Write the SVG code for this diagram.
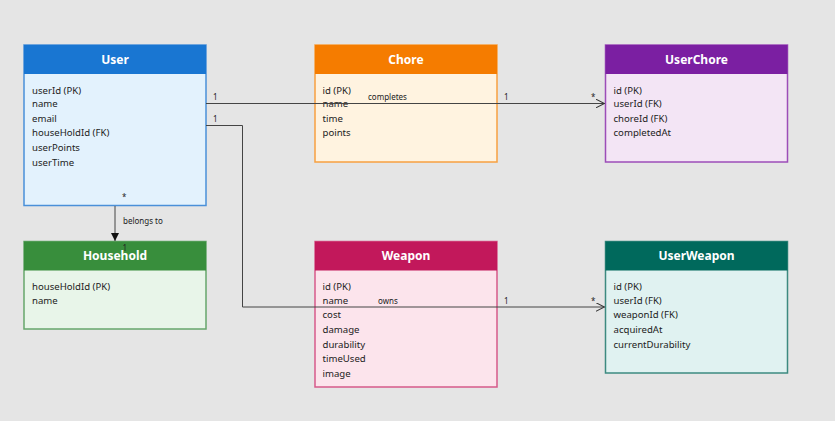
<svg xmlns="http://www.w3.org/2000/svg" width="835" height="421" viewBox="0 0 835 421">
<defs>
<style>
.title{font-family:"Noto Sans","Open Sans",sans-serif;font-size:12px;font-weight:bold;fill:#ffffff;text-anchor:middle}
.attr{font-family:"Noto Sans","Open Sans",sans-serif;font-size:9.6px;fill:#222222}
.lbl{font-family:"Noto Sans","Open Sans",sans-serif;font-size:8px;fill:#222222}
.conn{fill:none;stroke:#444444;stroke-width:1}
</style>
<marker id="open" viewBox="0 0 10 10" refX="10" refY="5" markerWidth="9" markerHeight="9" markerUnits="userSpaceOnUse" orient="auto">
<path d="M0,0 L10,5 L0,10" fill="none" stroke="#333333" stroke-width="1.2"/>
</marker>
<marker id="filled" viewBox="0 0 10 10" refX="10" refY="5" markerWidth="8" markerHeight="8" markerUnits="userSpaceOnUse" orient="auto">
<path d="M0,0 L10,5 L0,10 Z" fill="#111111"/>
</marker>
</defs>
<rect width="835" height="421" fill="#e5e5e5"/>

<g id="User">
<rect x="24" y="45" width="182" height="160.5" fill="#e3f2fd" stroke="#4a90d9" stroke-width="1.5"/>
<rect x="24" y="45" width="182" height="29" fill="#1976d2"/>
<text class="title" x="115" y="63.5">User</text>
<text class="attr" x="32" y="93.5">userId (PK)</text>
<text class="attr" x="32" y="107">name</text>
<text class="attr" x="32" y="121.8">email</text>
<text class="attr" x="32" y="136.3">houseHoldId (FK)</text>
<text class="attr" x="32" y="151.2">userPoints</text>
<text class="attr" x="32" y="166.2">userTime</text>
</g>

<g id="Chore">
<rect x="315" y="45" width="182" height="117" fill="#fff3e0" stroke="#f7a040" stroke-width="1.5"/>
<rect x="315" y="45" width="182" height="29" fill="#f57c00"/>
<text class="title" x="406" y="63.5">Chore</text>
<text class="attr" x="322.5" y="93.5">id (PK)</text>
<text class="attr" x="322.5" y="107">name</text>
<text class="attr" x="322.5" y="121.8">time</text>
<text class="attr" x="322.5" y="136.3">points</text>
</g>

<g id="UserChore">
<rect x="605.5" y="45" width="182" height="117" fill="#f3e5f5" stroke="#9c4db8" stroke-width="1.5"/>
<rect x="605.5" y="45" width="182" height="29" fill="#7b1fa2"/>
<text class="title" x="696.5" y="63.5">UserChore</text>
<text class="attr" x="613.5" y="93.5">id (PK)</text>
<text class="attr" x="613.5" y="107">userId (FK)</text>
<text class="attr" x="613.5" y="121.8">choreId (FK)</text>
<text class="attr" x="613.5" y="136.3">completedAt</text>
</g>

<g id="Household">
<rect x="24" y="241.5" width="182" height="87.5" fill="#e8f5e9" stroke="#66a66b" stroke-width="1.5"/>
<rect x="24" y="241.5" width="182" height="29" fill="#388e3c"/>
<text class="title" x="115" y="260">Household</text>
<text class="attr" x="32" y="289.5">houseHoldId (PK)</text>
<text class="attr" x="32" y="303.5">name</text>
</g>

<g id="Weapon">
<rect x="315" y="241.5" width="182" height="145.5" fill="#fce4ec" stroke="#d65a8a" stroke-width="1.5"/>
<rect x="315" y="241.5" width="182" height="29" fill="#c2185b"/>
<text class="title" x="406" y="260">Weapon</text>
<text class="attr" x="322.5" y="289.5">id (PK)</text>
<text class="attr" x="322.5" y="304">name</text>
<text class="attr" x="322.5" y="318.2">cost</text>
<text class="attr" x="322.5" y="333">damage</text>
<text class="attr" x="322.5" y="347.5">durability</text>
<text class="attr" x="322.5" y="362.2">timeUsed</text>
<text class="attr" x="322.5" y="376.5">image</text>
</g>

<g id="UserWeapon">
<rect x="605.5" y="241.5" width="182" height="131.5" fill="#e0f2f1" stroke="#3d8a80" stroke-width="1.5"/>
<rect x="605.5" y="241.5" width="182" height="29" fill="#00695c"/>
<text class="title" x="696.5" y="260">UserWeapon</text>
<text class="attr" x="613.5" y="289.5">id (PK)</text>
<text class="attr" x="613.5" y="304">userId (FK)</text>
<text class="attr" x="613.5" y="318.2">weaponId (FK)</text>
<text class="attr" x="613.5" y="333">acquiredAt</text>
<text class="attr" x="613.5" y="347.5">currentDurability</text>
</g>

<g id="connectors">
<path class="conn" d="M206,103.5 L604.5,103.5" marker-end="url(#open)"/>
<path class="conn" d="M206,125.5 L242.5,125.5 L242.5,307 L604.5,307" marker-end="url(#open)"/>
<path class="conn" d="M115,206 L115,241" marker-end="url(#filled)"/>
<text class="lbl" x="213" y="100">1</text>
<text class="lbl" x="368" y="100">completes</text>
<text class="lbl" x="504" y="100">1</text>
<text class="lbl" x="591" y="100">*</text>
<text class="lbl" x="213" y="122">1</text>
<text class="lbl" x="378" y="304">owns</text>
<text class="lbl" x="504" y="304">1</text>
<text class="lbl" x="591" y="304">*</text>
<text class="lbl" x="122" y="200">*</text>
<text class="lbl" x="123" y="224">belongs to</text>
<text class="lbl" x="122.5" y="251">1</text>
</g>
</svg>
